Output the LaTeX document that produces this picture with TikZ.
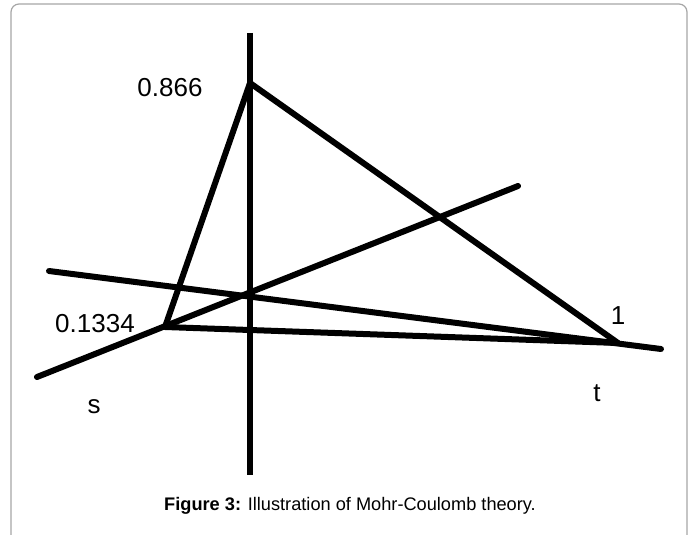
\documentclass[tikz,border=0pt]{standalone}
\usepackage{fontspec}
\setmainfont{Liberation Sans}
\usepackage{tikz}
\usetikzlibrary{positioning,calc}
\tikzset{
  frame/.style={draw=black!35, line width=1.2pt, rounded corners=8pt},
  mline/.style={line width=6pt, line cap=round, line join=round},
  axis/.style={line width=6.5pt},
  vlbl/.style={font=\fontsize{26}{30}\selectfont, inner sep=0pt},
  caplbl/.style={font=\fontsize{18.2}{21}\selectfont, inner sep=0pt},
}
\begin{document}
\begin{tikzpicture}[x=1pt,y=-1pt]
\useasboundingbox (0,0) rectangle (696,535);
% ---- frame round the figure
\draw[frame] (11,540) -- (11,4) -- (687,4) -- (687,540);
% ---- points of the construction
\coordinate (ax0) at (250,33);
\coordinate (ax1) at (250,475);
\coordinate (top) at (250,83);
\coordinate (lft) at (165,327);
\coordinate (rgt) at (618,343);
\coordinate (s0) at (37,377);
\coordinate (s1) at (518,186);
\coordinate (t0) at (49,271);
\coordinate (t1) at (661,349);
% ---- axis, triangle and the two lines
\draw[axis] (ax0) -- (ax1);
\draw[mline] (lft) -- (top) -- (rgt) -- cycle;
\draw[mline] (s0) -- (s1);
\draw[mline] (t0) -- (t1);
% ---- labels
\node[vlbl] (ltop) at (170,88) {0.866};
\node[vlbl] (llft) at (95,324) {0.1334};
\node[vlbl] (lrgt) at (618,316) {1};
\node[vlbl] (ls) at (94,407) {s};
\node[vlbl] (lt) at (597,393) {t};
\node[caplbl] (cap) at (350,506) {\textbf{Figure 3:} Illustration of Mohr-Coulomb theory.};
\end{tikzpicture}
\end{document}
